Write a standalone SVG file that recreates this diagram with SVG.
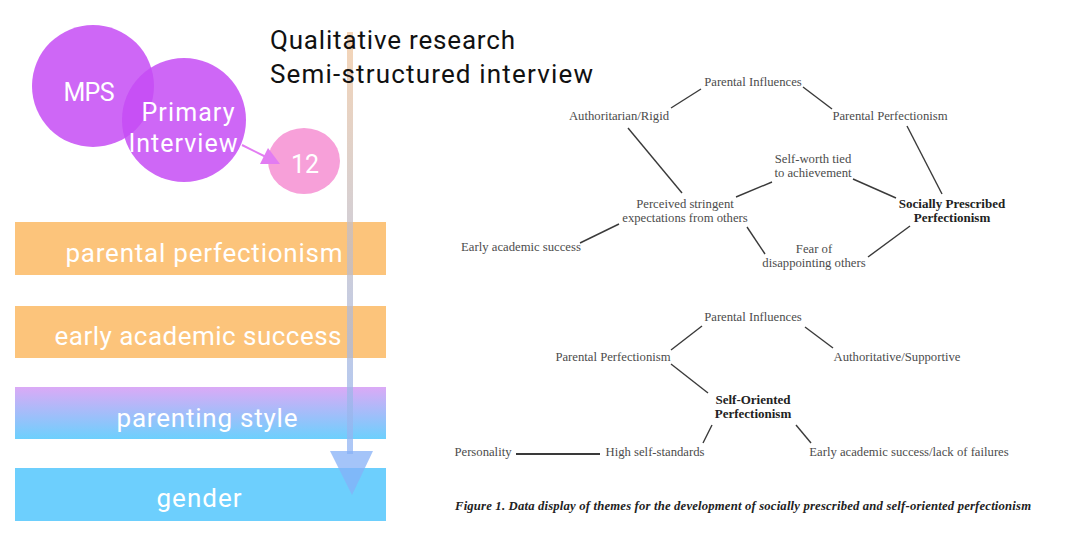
<svg xmlns="http://www.w3.org/2000/svg" width="1080" height="549" viewBox="0 0 1080 549">
<defs>
<linearGradient id="barGrad" x1="0" y1="0" x2="0" y2="1">
<stop offset="0" stop-color="#dbaaf6"/>
<stop offset="1" stop-color="#6cd0fd"/>
</linearGradient>
<linearGradient id="arrGrad" gradientUnits="userSpaceOnUse" x1="0" y1="32" x2="0" y2="460">
<stop offset="0" stop-color="#f2c79e"/>
<stop offset="1" stop-color="#8fb4f6"/>
</linearGradient>
<style>
.circ{fill:#c54cf4;fill-opacity:0.85}
.ctext{font-family:Roboto,"Liberation Sans",sans-serif;font-size:25px;fill:#ffffff;text-anchor:middle}
.btext{font-family:Roboto,"Liberation Sans",sans-serif;font-size:26px;fill:#ffffff;text-anchor:middle}
.title{font-family:Roboto,"Liberation Sans",sans-serif;font-size:26px;fill:#111111}
.fig{font-family:"Liberation Serif",serif;font-size:12.7px;fill:#4c4c4c;text-anchor:middle}
.figb{font-family:"Liberation Serif",serif;font-size:13px;font-weight:bold;fill:#222222;text-anchor:middle}
.cap{font-family:"Liberation Serif",serif;font-size:12.7px;font-weight:bold;font-style:italic;fill:#222222}
.ln{stroke:#3a3a3a;stroke-width:1.4;fill:none}
</style>
</defs>
<rect width="1080" height="549" fill="#ffffff"/>

<g id="node-mps">
<circle class="circ" cx="93" cy="86" r="61"/>
<text class="ctext" x="89" y="101" textLength="51">MPS</text>
</g>
<g id="node-primary">
<circle class="circ" cx="184" cy="120" r="62"/>
<text class="ctext" x="188" y="121" textLength="93">Primary</text>
<text class="ctext" x="183" y="152" textLength="109">Interview</text>
</g>
<g id="node-12">
<ellipse cx="304" cy="161" rx="36" ry="33" fill="#f7a0d9"/>
<text class="ctext" x="305" y="173">12</text>
</g>

<g id="bar-parental">
<rect x="15" y="222" width="371" height="53" fill="#fcc47b"/>
<text class="btext" x="204" y="262" textLength="277">parental perfectionism</text>
</g>
<g id="bar-early">
<rect x="15" y="306" width="371" height="52" fill="#fcc47b"/>
<text class="btext" x="198" y="345" textLength="287">early academic success</text>
</g>
<g id="bar-style">
<rect x="15" y="387" width="371" height="52" fill="url(#barGrad)"/>
<text class="btext" x="207" y="427" textLength="181">parenting style</text>
</g>
<g id="bar-gender">
<rect x="15" y="468" width="371" height="53" fill="#6dcffd"/>
<text class="btext" x="199" y="507" textLength="85">gender</text>
</g>

<g id="connectors-left">
<line x1="242" y1="145" x2="266" y2="157" stroke="#e27cf2" stroke-width="2"/>
<polygon points="280,164 260,164 268,148" fill="#e27cf2"/>
<rect x="347" y="32" width="6" height="422" fill="url(#arrGrad)" fill-opacity="0.75"/>
<path d="M330,451 L373,451 L352,495 z" fill="#86b0f7" fill-opacity="0.75"/>
</g>

<g id="title">
<text class="title" x="270" y="49" textLength="245">Qualitative research</text>
<text class="title" x="270" y="83" textLength="323">Semi-structured interview</text>
</g>

<g id="figure">
<g id="connectors-fig">
<line class="ln" x1="671" y1="108" x2="701" y2="89"/>
<line class="ln" x1="803" y1="87" x2="832" y2="109"/>
<line class="ln" x1="628" y1="128" x2="682" y2="193"/>
<line class="ln" x1="907" y1="126" x2="942" y2="194"/>
<line class="ln" x1="580" y1="243" x2="619" y2="224"/>
<line class="ln" x1="736" y1="197" x2="772" y2="182"/>
<line class="ln" x1="853" y1="179" x2="896" y2="198"/>
<line class="ln" x1="747" y1="227" x2="765" y2="254"/>
<line class="ln" x1="910" y1="226" x2="868" y2="257"/>
<line class="ln" x1="671" y1="350" x2="702" y2="326"/>
<line class="ln" x1="805" y1="327" x2="833" y2="348"/>
<line class="ln" x1="671" y1="364" x2="708" y2="393"/>
<line class="ln" x1="712" y1="425" x2="703" y2="443"/>
<line class="ln" x1="796" y1="425" x2="811" y2="443"/>
<line x1="516" y1="454" x2="600" y2="454" stroke="#3a3a3a" stroke-width="2"/>
</g>
<g id="fig-n1"><text class="fig" x="753" y="86">Parental Influences</text></g>
<g id="fig-n2"><text class="fig" x="619" y="120">Authoritarian/Rigid</text></g>
<g id="fig-n3"><text class="fig" x="890" y="120">Parental Perfectionism</text></g>
<g id="fig-n4"><text class="fig" x="813" y="163">Self-worth tied</text><text class="fig" x="813" y="177">to achievement</text></g>
<g id="fig-n5"><text class="fig" x="685" y="208">Perceived stringent</text><text class="fig" x="685" y="222">expectations from others</text></g>
<g id="fig-n6"><text class="figb" x="952" y="208">Socially Prescribed</text><text class="figb" x="952" y="222">Perfectionism</text></g>
<g id="fig-n7"><text class="fig" x="521" y="251">Early academic success</text></g>
<g id="fig-n8"><text class="fig" x="814" y="253">Fear of</text><text class="fig" x="814" y="267">disappointing others</text></g>
<g id="fig-n9"><text class="fig" x="753" y="321">Parental Influences</text></g>
<g id="fig-n10"><text class="fig" x="613" y="361">Parental Perfectionism</text></g>
<g id="fig-n11"><text class="fig" x="897" y="361">Authoritative/Supportive</text></g>
<g id="fig-n12"><text class="figb" x="753" y="404">Self-Oriented</text><text class="figb" x="753" y="418">Perfectionism</text></g>
<g id="fig-n13"><text class="fig" x="483" y="456">Personality</text></g>
<g id="fig-n14"><text class="fig" x="655" y="456">High self-standards</text></g>
<g id="fig-n15"><text class="fig" x="909" y="456">Early academic success/lack of failures</text></g>
<text class="cap" x="455" y="510" textLength="576">Figure 1. Data display of themes for the development of socially prescribed and self-oriented perfectionism</text>
</g>
</svg>
